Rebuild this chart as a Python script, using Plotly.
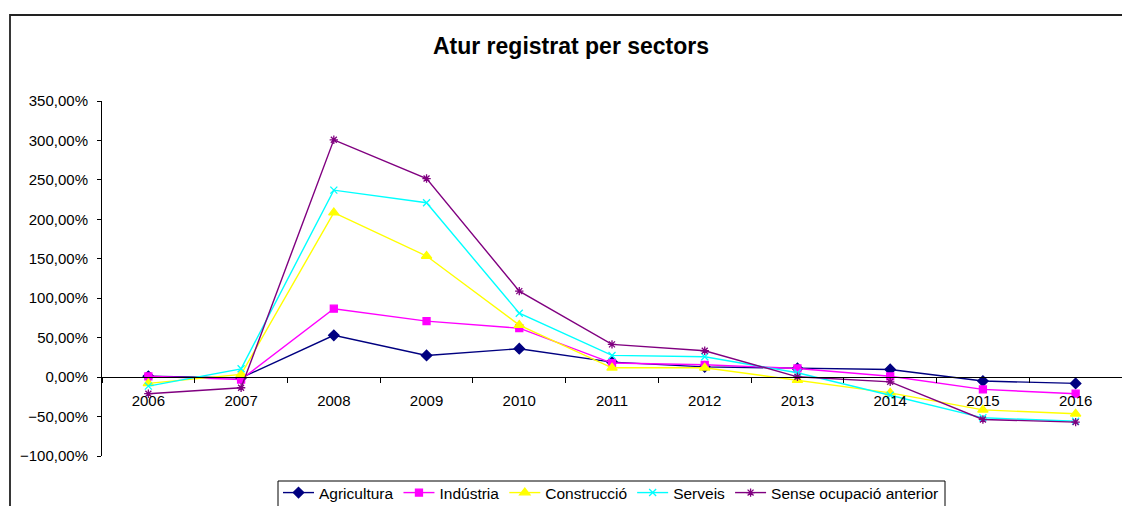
import plotly.graph_objects as go

years = ["2006", "2007", "2008", "2009", "2010", "2011", "2012", "2013", "2014", "2015", "2016"]
agricultura = [1, -1, 53, 27.5, 36, 19, 13, 11, 9.7, -5, -8]
industria = [1, -3, 86.7, 71, 62, 17.8, 15.6, 11, 1, -15.6, -21]
construccio = [-8, 3.4, 208.5, 153.5, 66, 11.8, 11.8, -3.8, -20, -41.5, -46.5]
serveis = [-11.4, 10.5, 237, 221, 81, 27.5, 25.8, 5.5, -23, -51.6, -56]
sense = [-21, -13.5, 300.8, 251.7, 109, 41.5, 33.4, 0.4, -6, -53.7, -57]

series = [
    ("Agricultura", agricultura, "#000080", "diamond", 8),
    ("Indústria", industria, "#FF00FF", "square", 7),
    ("Construcció", construccio, "#FFFF00", "triangle-up", 9),
    ("Serveis", serveis, "#00FFFF", "x-thin-open", 7),
    ("Sense ocupació anterior", sense, "#800080", "asterisk-open", 7),
]

fig = go.Figure()
for name, vals, col, sym, sz in series:
    fig.add_trace(go.Scatter(
        x=years, y=vals, name=name, mode="lines+markers",
        line=dict(color=col, width=1.4),
        marker=dict(symbol=sym, size=sz, color=col, line=dict(color=col, width=1.3)),
    ))

W, H = 1122, 506
L, R, T, B = 102, 0, 101, 50
pw, ph = W - L - R, H - T - B


def px(xs):
    return (xs - L) / pw


def py(ys):
    return (H - B - ys) / ph


# outer chart border
fig.add_shape(type="rect", xref="paper", yref="paper",
              x0=px(10), x1=px(1140), y0=py(540), y1=py(15),
              line=dict(color="#222222", width=1.8), fillcolor="rgba(0,0,0,0)", layer="below")
# legend frame (runs past the bottom edge, as in the reference)
fig.add_shape(type="rect", xref="paper", yref="paper",
              x0=px(278), x1=px(945), y0=py(530), y1=py(481),
              line=dict(color="black", width=1), fillcolor="white", layer="below")

fig.update_layout(
    width=W, height=H,
    margin=dict(l=L, r=R, t=T, b=B, autoexpand=False),
    paper_bgcolor="white", plot_bgcolor="white",
    font=dict(family="Liberation Sans, Arial, sans-serif", size=15, color="black"),
    separators=",.",
    title=dict(text="<b>Atur registrat per sectors</b>", x=571 / W, xref="container",
               y=1 - 46 / H, yref="container", xanchor="center", yanchor="middle",
               font=dict(size=23, color="black")),
    xaxis=dict(
        type="category", range=[-0.5, 10.5],
        anchor="free", position=100 / 450,
        showline=True, linecolor="black", linewidth=1,
        ticks="outside", tickson="boundaries", ticklen=5, tickcolor="black",
        showgrid=False, zeroline=False, tickfont=dict(size=15),
        ticklabelstandoff=10,
    ),
    yaxis=dict(
        range=[-100, 350], dtick=50, tick0=0,
        tickformat=".2f", ticksuffix="%",
        showline=True, linecolor="black", linewidth=1,
        ticks="outside", ticklen=4, tickcolor="black",
        showgrid=False, zeroline=False, tickfont=dict(size=15),
        ticklabelstandoff=6,
    ),
    legend=dict(
        orientation="h", x=px(611), xanchor="center", y=py(476), yanchor="top",
        borderwidth=0, bgcolor="rgba(0,0,0,0)",
        font=dict(size=15.5), itemwidth=31, tracegroupgap=0,
    ),
    showlegend=True,
)

post = (
    "document.body.style.margin='0';"
    "document.body.style.overflow='hidden';"
)

fig.write_html("out.html", config={"displayModeBar": False}, post_script=post)
